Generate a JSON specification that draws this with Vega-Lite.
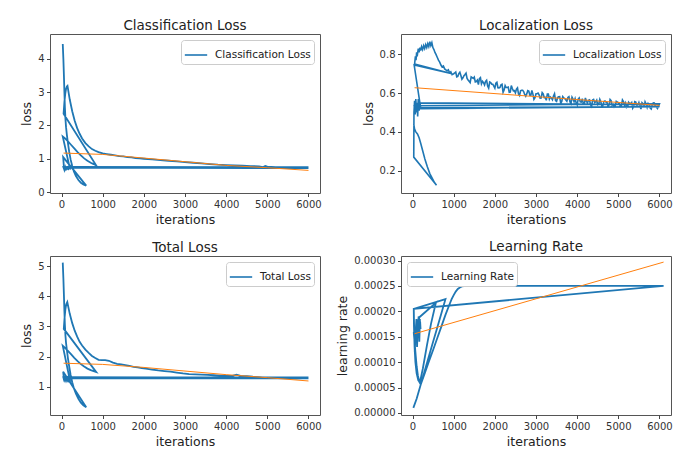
{
"$schema": "https://vega.github.io/schema/vega-lite/v6.json",
"background": "white",
"padding": {"top": 18, "left": 20, "right": 3, "bottom": 5},
"datasets": {
"cls": [
{"i":0,"x":30,"y":4.45},{"i":1,"x":45,"y":4.0},{"i":2,"x":58,"y":3.5},{"i":3,"x":70,"y":3.0},{"i":4,"x":82,"y":2.55},{"i":5,"x":95,"y":2.2},{"i":6,"x":110,"y":1.95},{"i":7,"x":130,"y":1.72},{"i":8,"x":155,"y":1.48},{"i":9,"x":185,"y":1.22},{"i":10,"x":220,"y":0.98},{"i":11,"x":260,"y":0.78},{"i":12,"x":300,"y":0.62},{"i":13,"x":350,"y":0.48},{"i":14,"x":410,"y":0.36},{"i":15,"x":470,"y":0.28},{"i":16,"x":530,"y":0.23},{"i":17,"x":600,"y":0.19},
{"i":18,"x":40,"y":1.05},{"i":19,"x":55,"y":0.8},{"i":20,"x":70,"y":0.7},{"i":21,"x":90,"y":0.74},{"i":22,"x":110,"y":0.69},{"i":23,"x":130,"y":0.73},{"i":24,"x":150,"y":0.7},{"i":25,"x":175,"y":0.74},{"i":26,"x":200,"y":0.72},
{"i":27,"x":30,"y":1.67},{"i":28,"x":80,"y":1.62},{"i":29,"x":150,"y":1.53},{"i":30,"x":230,"y":1.42},{"i":31,"x":310,"y":1.31},{"i":32,"x":390,"y":1.2},{"i":33,"x":470,"y":1.1},{"i":34,"x":550,"y":1.01},{"i":35,"x":630,"y":0.94},{"i":36,"x":710,"y":0.88},{"i":37,"x":780,"y":0.84},{"i":38,"x":840,"y":0.8},
{"i":39,"x":50,"y":2.35},{"i":40,"x":70,"y":2.7},{"i":41,"x":90,"y":2.95},{"i":42,"x":110,"y":3.1},{"i":43,"x":130,"y":3.17},{"i":44,"x":145,"y":3.19},{"i":45,"x":200,"y":2.78},{"i":46,"x":260,"y":2.43},{"i":47,"x":320,"y":2.14},{"i":48,"x":380,"y":1.92},{"i":49,"x":440,"y":1.75},{"i":50,"x":500,"y":1.61},{"i":51,"x":580,"y":1.47},{"i":52,"x":660,"y":1.37},{"i":53,"x":740,"y":1.29},{"i":54,"x":820,"y":1.24},{"i":55,"x":900,"y":1.2},{"i":56,"x":1000,"y":1.16},{"i":57,"x":1100,"y":1.14},{"i":58,"x":1200,"y":1.12},{"i":59,"x":1300,"y":1.1},{"i":60,"x":1400,"y":1.08},{"i":61,"x":1500,"y":1.07},{"i":62,"x":1600,"y":1.05},{"i":63,"x":1700,"y":1.04},{"i":64,"x":1800,"y":1.02},{"i":65,"x":1900,"y":1.01},{"i":66,"x":2000,"y":1.0},{"i":67,"x":2200,"y":0.98},{"i":68,"x":2400,"y":0.96},{"i":69,"x":2600,"y":0.94},{"i":70,"x":2800,"y":0.92},{"i":71,"x":3000,"y":0.9},{"i":72,"x":3200,"y":0.88},{"i":73,"x":3400,"y":0.86},{"i":74,"x":3600,"y":0.84},{"i":75,"x":3800,"y":0.82},{"i":76,"x":4000,"y":0.81},{"i":77,"x":4200,"y":0.8},{"i":78,"x":4400,"y":0.79},{"i":79,"x":4600,"y":0.78},{"i":80,"x":4800,"y":0.77},{"i":81,"x":4900,"y":0.75},{"i":82,"x":4950,"y":0.78},{"i":83,"x":5000,"y":0.76},{"i":84,"x":5200,"y":0.75},{"i":85,"x":5400,"y":0.74},{"i":86,"x":5600,"y":0.73},{"i":87,"x":5800,"y":0.73},{"i":88,"x":6000,"y":0.72},
{"i":89,"x":50,"y":0.73},{"i":90,"x":70,"y":0.66},{"i":91,"x":90,"y":0.75},{"i":92,"x":110,"y":0.68},{"i":93,"x":140,"y":0.74},{"i":94,"x":170,"y":0.69},{"i":95,"x":200,"y":0.735},{"i":96,"x":6000,"y":0.735},{"i":97,"x":45,"y":0.75},{"i":98,"x":65,"y":0.7},{"i":99,"x":95,"y":0.76},{"i":100,"x":130,"y":0.71},{"i":101,"x":160,"y":0.75},{"i":102,"x":6000,"y":0.75}
],
"cls_fit": [{"x":50,"y":1.17},{"x":1000,"y":1.13},{"x":2000,"y":1.02},{"x":3000,"y":0.91},{"x":4000,"y":0.8},{"x":5000,"y":0.73},{"x":6000,"y":0.65}],
"loc": [
{"i":0,"x":30,"y":0.44},{"i":1,"x":50,"y":0.415},{"i":2,"x":80,"y":0.4},{"i":3,"x":120,"y":0.39},{"i":4,"x":160,"y":0.37},{"i":5,"x":200,"y":0.34},{"i":6,"x":250,"y":0.3},{"i":7,"x":300,"y":0.26},{"i":8,"x":360,"y":0.22},{"i":9,"x":420,"y":0.185},{"i":10,"x":480,"y":0.16},{"i":11,"x":530,"y":0.14},{"i":12,"x":583,"y":0.125},
{"i":13,"x":30,"y":0.27},{"i":14,"x":35,"y":0.5},{"i":15,"x":50,"y":0.56},{"i":16,"x":65,"y":0.49},{"i":17,"x":80,"y":0.57},{"i":18,"x":95,"y":0.5},{"i":19,"x":110,"y":0.55},{"i":20,"x":125,"y":0.48},{"i":21,"x":140,"y":0.57},{"i":22,"x":160,"y":0.51},{"i":23,"x":180,"y":0.55},{"i":24,"x":200,"y":0.52},
{"i":25,"x":40,"y":0.745},{"i":26,"x":960,"y":0.7},
{"i":27,"x":50,"y":0.75},{"i":28,"x":70,"y":0.79},{"i":29,"x":85,"y":0.77},{"i":30,"x":100,"y":0.81},{"i":31,"x":120,"y":0.8},{"i":32,"x":140,"y":0.83},{"i":33,"x":160,"y":0.81},{"i":34,"x":180,"y":0.835},{"i":35,"x":200,"y":0.82},{"i":36,"x":220,"y":0.84},{"i":37,"x":245,"y":0.825},{"i":38,"x":270,"y":0.845},{"i":39,"x":295,"y":0.83},{"i":40,"x":320,"y":0.85},{"i":41,"x":345,"y":0.835},{"i":42,"x":370,"y":0.855},{"i":43,"x":395,"y":0.84},{"i":44,"x":420,"y":0.865},{"i":45,"x":445,"y":0.845},{"i":46,"x":470,"y":0.86},{"i":47,"x":495,"y":0.835},{"i":48,"x":520,"y":0.825},{"i":49,"x":545,"y":0.81},{"i":50,"x":570,"y":0.8},{"i":51,"x":600,"y":0.785},{"i":52,"x":630,"y":0.77},{"i":53,"x":660,"y":0.76},{"i":54,"x":690,"y":0.745},{"i":55,"x":720,"y":0.735},{"i":56,"x":750,"y":0.74},{"i":57,"x":780,"y":0.725},{"i":58,"x":810,"y":0.72},{"i":59,"x":840,"y":0.715},{"i":60,"x":870,"y":0.72},{"i":61,"x":900,"y":0.705},{"i":62,"x":930,"y":0.71},{"i":63,"x":960,"y":0.695},
{"i":64,"x":1000,"y":0.700},{"i":64.5,"x":1025,"y":0.704},{"i":65,"x":1050,"y":0.709},{"i":65.5,"x":1075,"y":0.684},{"i":66,"x":1100,"y":0.686},{"i":66.5,"x":1125,"y":0.701},{"i":67,"x":1150,"y":0.708},{"i":67.5,"x":1175,"y":0.691},{"i":68,"x":1200,"y":0.672},{"i":68.5,"x":1225,"y":0.679},{"i":69,"x":1250,"y":0.690},{"i":69.5,"x":1275,"y":0.696},{"i":70,"x":1300,"y":0.703},{"i":70.5,"x":1325,"y":0.676},{"i":71,"x":1350,"y":0.668},{"i":71.5,"x":1375,"y":0.661},{"i":72,"x":1400,"y":0.654},{"i":72.5,"x":1425,"y":0.684},{"i":73,"x":1450,"y":0.680},{"i":73.5,"x":1475,"y":0.676},
{"i":74,"x":1500,"y":0.683},{"i":74.5,"x":1525,"y":0.658},{"i":75,"x":1550,"y":0.660},{"i":75.5,"x":1575,"y":0.667},{"i":76,"x":1600,"y":0.644},{"i":76.5,"x":1625,"y":0.675},{"i":77,"x":1650,"y":0.680},{"i":77.5,"x":1675,"y":0.648},{"i":78,"x":1700,"y":0.661},{"i":78.5,"x":1725,"y":0.654},{"i":79,"x":1750,"y":0.642},{"i":79.5,"x":1775,"y":0.661},{"i":80,"x":1800,"y":0.667},{"i":80.5,"x":1825,"y":0.637},{"i":81,"x":1850,"y":0.626},{"i":81.5,"x":1875,"y":0.657},{"i":82,"x":1900,"y":0.654},{"i":82.5,"x":1925,"y":0.646},{"i":83,"x":1950,"y":0.646},{"i":83.5,"x":1975,"y":0.636},
{"i":84,"x":2000,"y":0.626},{"i":84.5,"x":2025,"y":0.651},{"i":85,"x":2050,"y":0.656},{"i":85.5,"x":2075,"y":0.628},{"i":86,"x":2100,"y":0.627},{"i":86.5,"x":2125,"y":0.630},{"i":87,"x":2150,"y":0.643},{"i":87.5,"x":2175,"y":0.646},{"i":88,"x":2200,"y":0.604},{"i":88.5,"x":2225,"y":0.616},{"i":89,"x":2250,"y":0.639},{"i":89.5,"x":2275,"y":0.629},{"i":90,"x":2300,"y":0.629},{"i":90.5,"x":2325,"y":0.631},{"i":91,"x":2350,"y":0.604},{"i":91.5,"x":2375,"y":0.605},{"i":92,"x":2400,"y":0.639},{"i":92.5,"x":2425,"y":0.624},{"i":93,"x":2450,"y":0.612},{"i":93.5,"x":2475,"y":0.613},
{"i":94,"x":2500,"y":0.601},{"i":94.5,"x":2525,"y":0.621},{"i":95,"x":2550,"y":0.627},{"i":95.5,"x":2575,"y":0.596},{"i":96,"x":2600,"y":0.588},{"i":96.5,"x":2625,"y":0.612},{"i":97,"x":2650,"y":0.615},{"i":97.5,"x":2675,"y":0.615},{"i":98,"x":2700,"y":0.608},{"i":98.5,"x":2725,"y":0.593},{"i":99,"x":2750,"y":0.584},{"i":99.5,"x":2775,"y":0.596},{"i":100,"x":2800,"y":0.613},{"i":100.5,"x":2825,"y":0.611},{"i":101,"x":2850,"y":0.589},{"i":101.5,"x":2875,"y":0.589},{"i":102,"x":2900,"y":0.614},{"i":102.5,"x":2925,"y":0.595},{"i":103,"x":2950,"y":0.568},{"i":103.5,"x":2975,"y":0.576},
{"i":104,"x":3000,"y":0.597},{"i":104.5,"x":3025,"y":0.597},{"i":105,"x":3050,"y":0.600},{"i":105.5,"x":3075,"y":0.591},{"i":106,"x":3100,"y":0.574},{"i":106.5,"x":3125,"y":0.575},{"i":107,"x":3150,"y":0.603},{"i":107.5,"x":3175,"y":0.596},{"i":108,"x":3200,"y":0.577},{"i":108.5,"x":3225,"y":0.578},{"i":109,"x":3250,"y":0.563},{"i":109.5,"x":3275,"y":0.595},{"i":110,"x":3300,"y":0.595},{"i":110.5,"x":3325,"y":0.569},{"i":111,"x":3350,"y":0.580},{"i":111.5,"x":3375,"y":0.575},{"i":112,"x":3400,"y":0.566},{"i":112.5,"x":3425,"y":0.585},{"i":113,"x":3450,"y":0.597},{"i":113.5,"x":3475,"y":0.562},
{"i":114,"x":3500,"y":0.558},{"i":114.5,"x":3525,"y":0.577},{"i":115,"x":3550,"y":0.581},{"i":115.5,"x":3575,"y":0.582},{"i":116,"x":3600,"y":0.549},{"i":116.5,"x":3625,"y":0.556},{"i":117,"x":3650,"y":0.582},{"i":117.5,"x":3675,"y":0.575},{"i":118,"x":3700,"y":0.572},{"i":118.5,"x":3725,"y":0.565},{"i":119,"x":3750,"y":0.558},{"i":119.5,"x":3775,"y":0.578},{"i":120,"x":3800,"y":0.582},{"i":120.5,"x":3825,"y":0.556},{"i":121,"x":3850,"y":0.546},{"i":121.5,"x":3875,"y":0.579},{"i":122,"x":3900,"y":0.569},{"i":122.5,"x":3925,"y":0.556},{"i":123,"x":3950,"y":0.572},{"i":123.5,"x":3975,"y":0.550},
{"i":124,"x":4000,"y":0.540},{"i":124.5,"x":4025,"y":0.569},{"i":125,"x":4050,"y":0.575},{"i":125.5,"x":4075,"y":0.555},{"i":126,"x":4100,"y":0.554},{"i":126.5,"x":4125,"y":0.571},{"i":127,"x":4150,"y":0.545},{"i":127.5,"x":4175,"y":0.545},{"i":128,"x":4200,"y":0.575},{"i":128.5,"x":4225,"y":0.558},{"i":129,"x":4250,"y":0.549},{"i":129.5,"x":4275,"y":0.563},{"i":130,"x":4300,"y":0.565},{"i":130.5,"x":4325,"y":0.540},{"i":131,"x":4350,"y":0.531},{"i":131.5,"x":4375,"y":0.564},{"i":132,"x":4400,"y":0.567},{"i":132.5,"x":4425,"y":0.552},{"i":133,"x":4450,"y":0.555},{"i":133.5,"x":4475,"y":0.564},
{"i":134,"x":4500,"y":0.540},{"i":134.5,"x":4525,"y":0.543},{"i":135,"x":4550,"y":0.568},{"i":135.5,"x":4575,"y":0.555},{"i":136,"x":4600,"y":0.534},{"i":136.5,"x":4625,"y":0.537},{"i":137,"x":4650,"y":0.557},{"i":137.5,"x":4675,"y":0.560},{"i":138,"x":4700,"y":0.554},{"i":138.5,"x":4725,"y":0.552},{"i":139,"x":4750,"y":0.534},{"i":139.5,"x":4775,"y":0.538},{"i":140,"x":4800,"y":0.567},{"i":140.5,"x":4825,"y":0.561},{"i":141,"x":4850,"y":0.538},{"i":141.5,"x":4875,"y":0.542},{"i":142,"x":4900,"y":0.528},{"i":142.5,"x":4925,"y":0.534},{"i":143,"x":4950,"y":0.558},{"i":143.5,"x":4975,"y":0.554},
{"i":144,"x":5000,"y":0.551},{"i":144.5,"x":5025,"y":0.546},{"i":145,"x":5050,"y":0.532},{"i":145.5,"x":5075,"y":0.536},{"i":146,"x":5100,"y":0.565},{"i":146.5,"x":5125,"y":0.556},{"i":147,"x":5150,"y":0.539},{"i":147.5,"x":5175,"y":0.550},{"i":148,"x":5200,"y":0.526},{"i":148.5,"x":5225,"y":0.529},{"i":149,"x":5250,"y":0.553},{"i":149.5,"x":5275,"y":0.547},{"i":150,"x":5300,"y":0.546},{"i":150.5,"x":5325,"y":0.552},{"i":151,"x":5350,"y":0.522},{"i":151.5,"x":5375,"y":0.531},{"i":152,"x":5400,"y":0.556},{"i":152.5,"x":5425,"y":0.554},{"i":153,"x":5450,"y":0.533},{"i":153.5,"x":5475,"y":0.538},
{"i":154,"x":5500,"y":0.552},{"i":154.5,"x":5525,"y":0.533},{"i":155,"x":5550,"y":0.518},{"i":155.5,"x":5575,"y":0.551},{"i":156,"x":5600,"y":0.546},{"i":156.5,"x":5625,"y":0.527},{"i":157,"x":5650,"y":0.555},{"i":157.5,"x":5675,"y":0.544},{"i":158,"x":5700,"y":0.527},{"i":158.5,"x":5725,"y":0.547},{"i":159,"x":5750,"y":0.541},{"i":159.5,"x":5775,"y":0.523},{"i":160,"x":5800,"y":0.518},{"i":160.5,"x":5825,"y":0.540},{"i":161,"x":5850,"y":0.550},{"i":161.5,"x":5875,"y":0.549},{"i":162,"x":5900,"y":0.530},{"i":162.5,"x":5925,"y":0.528},{"i":163,"x":5950,"y":0.521},{"i":163.5,"x":5975,"y":0.532},{"i":164,"x":6000,"y":0.545},
{"i":165,"x":40,"y":0.535},{"i":166,"x":60,"y":0.5},{"i":167,"x":90,"y":0.545},{"i":168,"x":120,"y":0.51},{"i":169,"x":150,"y":0.54},{"i":170,"x":180,"y":0.52},{"i":171,"x":6000,"y":0.53},{"i":172,"x":45,"y":0.525},{"i":173,"x":75,"y":0.56},{"i":174,"x":110,"y":0.52},{"i":175,"x":145,"y":0.55},{"i":176,"x":6000,"y":0.54}
],
"loc_fit": [{"x":50,"y":0.628},{"x":3000,"y":0.582},{"x":6000,"y":0.537}],
"tot": [
{"i":0,"x":30,"y":5.12},{"i":1,"x":45,"y":4.6},{"i":2,"x":58,"y":4.05},{"i":3,"x":70,"y":3.5},{"i":4,"x":82,"y":3.05},{"i":5,"x":95,"y":2.7},{"i":6,"x":110,"y":2.45},{"i":7,"x":130,"y":2.22},{"i":8,"x":155,"y":1.95},{"i":9,"x":185,"y":1.68},{"i":10,"x":220,"y":1.4},{"i":11,"x":260,"y":1.15},{"i":12,"x":300,"y":0.95},{"i":13,"x":350,"y":0.77},{"i":14,"x":410,"y":0.6},{"i":15,"x":470,"y":0.47},{"i":16,"x":530,"y":0.38},{"i":17,"x":600,"y":0.32},
{"i":18,"x":40,"y":1.5},{"i":19,"x":55,"y":1.3},{"i":20,"x":70,"y":1.18},{"i":21,"x":90,"y":1.27},{"i":22,"x":110,"y":1.19},{"i":23,"x":130,"y":1.26},{"i":24,"x":150,"y":1.2},{"i":25,"x":175,"y":1.27},{"i":26,"x":200,"y":1.24},
{"i":27,"x":30,"y":2.36},{"i":28,"x":80,"y":2.3},{"i":29,"x":150,"y":2.2},{"i":30,"x":230,"y":2.08},{"i":31,"x":310,"y":1.96},{"i":32,"x":390,"y":1.85},{"i":33,"x":470,"y":1.75},{"i":34,"x":550,"y":1.67},{"i":35,"x":630,"y":1.6},{"i":36,"x":710,"y":1.55},{"i":37,"x":780,"y":1.52},{"i":38,"x":840,"y":1.49},
{"i":39,"x":55,"y":2.92},{"i":40,"x":75,"y":3.3},{"i":41,"x":95,"y":3.58},{"i":42,"x":115,"y":3.74},{"i":43,"x":140,"y":3.81},{"i":44,"x":200,"y":3.42},{"i":45,"x":260,"y":3.11},{"i":46,"x":320,"y":2.86},{"i":47,"x":380,"y":2.66},{"i":48,"x":440,"y":2.49},{"i":49,"x":500,"y":2.37},{"i":50,"x":580,"y":2.23},{"i":51,"x":660,"y":2.12},{"i":52,"x":740,"y":2.02},{"i":53,"x":820,"y":1.95},{"i":54,"x":900,"y":1.89},{"i":55,"x":980,"y":1.88},{"i":56,"x":1060,"y":1.88},{"i":57,"x":1150,"y":1.86},{"i":58,"x":1250,"y":1.8},{"i":59,"x":1350,"y":1.76},{"i":60,"x":1450,"y":1.74},{"i":61,"x":1550,"y":1.72},{"i":62,"x":1650,"y":1.69},{"i":63,"x":1750,"y":1.66},{"i":64,"x":1850,"y":1.64},{"i":65,"x":1950,"y":1.62},{"i":66,"x":2050,"y":1.6},{"i":67,"x":2200,"y":1.57},{"i":68,"x":2350,"y":1.54},{"i":69,"x":2500,"y":1.52},{"i":70,"x":2650,"y":1.5},{"i":71,"x":2800,"y":1.47},{"i":72,"x":2950,"y":1.44},{"i":73,"x":3100,"y":1.42},{"i":74,"x":3250,"y":1.41},{"i":75,"x":3400,"y":1.4},{"i":76,"x":3550,"y":1.39},{"i":77,"x":3700,"y":1.38},{"i":78,"x":3850,"y":1.37},{"i":79,"x":4000,"y":1.36},{"i":80,"x":4150,"y":1.36},{"i":81,"x":4250,"y":1.4},{"i":82,"x":4350,"y":1.36},{"i":83,"x":4500,"y":1.35},{"i":84,"x":4650,"y":1.33},{"i":85,"x":4800,"y":1.32},{"i":86,"x":4950,"y":1.3},{"i":87,"x":5100,"y":1.29},{"i":88,"x":5250,"y":1.28},{"i":89,"x":5400,"y":1.31},{"i":90,"x":5550,"y":1.28},{"i":91,"x":5700,"y":1.27},{"i":92,"x":5850,"y":1.28},{"i":93,"x":6000,"y":1.28},
{"i":94,"x":50,"y":1.28},{"i":95,"x":70,"y":1.18},{"i":96,"x":90,"y":1.32},{"i":97,"x":110,"y":1.22},{"i":98,"x":140,"y":1.3},{"i":99,"x":170,"y":1.2},{"i":100,"x":200,"y":1.29},{"i":101,"x":6000,"y":1.29},{"i":102,"x":45,"y":1.31},{"i":103,"x":65,"y":1.22},{"i":104,"x":95,"y":1.34},{"i":105,"x":130,"y":1.25},{"i":106,"x":160,"y":1.31},{"i":107,"x":6000,"y":1.31}
],
"tot_fit": [{"x":50,"y":1.78},{"x":1000,"y":1.74},{"x":2000,"y":1.64},{"x":3000,"y":1.52},{"x":4000,"y":1.4},{"x":5000,"y":1.3},{"x":6000,"y":1.19}],
"lr": [
{"i":0,"x":20,"y":0.00001},{"i":1,"x":100,"y":0.000028},{"i":2,"x":200,"y":0.000056},{"i":3,"x":300,"y":0.000079},{"i":4,"x":400,"y":0.000102},{"i":5,"x":500,"y":0.000124},{"i":6,"x":600,"y":0.000147},{"i":7,"x":700,"y":0.00017},{"i":8,"x":800,"y":0.000193},{"i":9,"x":900,"y":0.000214},{"i":10,"x":950,"y":0.000224},{"i":11,"x":1000,"y":0.000232},{"i":12,"x":1050,"y":0.000239},{"i":13,"x":1100,"y":0.000244},{"i":14,"x":1150,"y":0.000247},{"i":15,"x":1200,"y":0.000249},{"i":16,"x":1300,"y":0.00025},{"i":17,"x":3000,"y":0.00025},{"i":18,"x":6100,"y":0.00025},
{"i":19,"x":30,"y":0.000205},{"i":20,"x":40,"y":0.000165},{"i":21,"x":55,"y":0.00012},{"i":22,"x":75,"y":0.00016},{"i":23,"x":95,"y":0.000185},{"i":24,"x":110,"y":0.00013},{"i":25,"x":130,"y":0.000175},{"i":26,"x":150,"y":0.00019},{"i":27,"x":165,"y":0.00014},{"i":28,"x":180,"y":0.000185},
{"i":29,"x":30,"y":0.000158},{"i":30,"x":50,"y":0.00014},{"i":31,"x":75,"y":0.000115},{"i":32,"x":100,"y":0.000092},{"i":33,"x":130,"y":0.000074},{"i":34,"x":165,"y":0.000061},{"i":35,"x":200,"y":0.000056},{"i":36,"x":250,"y":0.00007},{"i":37,"x":300,"y":0.000084},{"i":38,"x":400,"y":0.000112},{"i":39,"x":500,"y":0.00014},{"i":40,"x":600,"y":0.000168},{"i":41,"x":700,"y":0.000196},{"i":42,"x":800,"y":0.000224},
{"i":43,"x":30,"y":0.000205},{"i":44,"x":35,"y":0.00017},{"i":45,"x":50,"y":0.00013},{"i":46,"x":70,"y":0.0001},{"i":47,"x":100,"y":0.000078},{"i":48,"x":140,"y":0.000064},{"i":49,"x":180,"y":0.00006},{"i":50,"x":250,"y":0.000087},{"i":51,"x":350,"y":0.000133},{"i":52,"x":450,"y":0.000176},{"i":53,"x":567,"y":0.000217},
{"i":54,"x":160,"y":0.000188},{"i":55,"x":170,"y":0.00016},{"i":56,"x":185,"y":0.00018},{"i":57,"x":195,"y":0.000165}
],
"lr_fit": [{"x":50,"y":0.000156},{"x":6100,"y":0.000297}]
},
"columns": 2,
"spacing": {"row": 63, "column": 81},
"bounds": "flush",
"resolve": {"scale": {"x": "independent", "y": "independent", "color": "independent"}},
"concat": [
{"width": 270, "height": 159, "title": "Classification Loss",
 "layer": [
  {"data": {"name": "cls"}, "mark": {"type": "line", "strokeWidth": 1.8, "clip": true},
   "encoding": {
    "x": {"field": "x", "type": "quantitative", "scale": {"domain": [-280, 6280], "nice": false, "zero": false}, "axis": {"values": [0,1000,2000,3000,4000,5000,6000], "tickCount": 20, "format": "d", "title": "iterations"}},
    "y": {"field": "y", "type": "quantitative", "scale": {"domain": [-0.03, 4.75], "nice": false, "zero": false}, "axis": {"values": [0,1,2,3,4], "tickCount": 20, "labelOverlap": false, "format": "d", "title": "loss"}},
    "order": {"field": "i", "type": "quantitative"},
    "color": {"datum": "Classification Loss", "type": "nominal", "scale": {"range": ["#1f77b4"]}, "legend": {"orient": "top-right", "title": null}}}},
  {"data": {"name": "cls_fit"}, "mark": {"type": "line", "color": "#ff7f0e", "strokeWidth": 1, "clip": true},
   "encoding": {"x": {"field": "x", "type": "quantitative"}, "y": {"field": "y", "type": "quantitative"}}}
 ]},
{"width": 270, "height": 159, "title": "Localization Loss",
 "layer": [
  {"data": {"name": "loc"}, "mark": {"type": "line", "strokeWidth": 1.6, "clip": true},
   "encoding": {
    "x": {"field": "x", "type": "quantitative", "scale": {"domain": [-280, 6280], "nice": false, "zero": false}, "axis": {"values": [0,1000,2000,3000,4000,5000,6000], "tickCount": 20, "format": "d", "title": "iterations"}},
    "y": {"field": "y", "type": "quantitative", "scale": {"domain": [0.085, 0.905], "nice": false, "zero": false}, "axis": {"values": [0.2,0.4,0.6,0.8], "tickCount": 20, "labelOverlap": false, "format": ".1f", "title": "loss"}},
    "order": {"field": "i", "type": "quantitative"},
    "color": {"datum": "Localization Loss", "type": "nominal", "scale": {"range": ["#1f77b4"]}, "legend": {"orient": "top-right", "title": null}}}},
  {"data": {"name": "loc_fit"}, "mark": {"type": "line", "color": "#ff7f0e", "strokeWidth": 1, "clip": true},
   "encoding": {"x": {"field": "x", "type": "quantitative"}, "y": {"field": "y", "type": "quantitative"}}}
 ]},
{"width": 270, "height": 159, "title": "Total Loss",
 "layer": [
  {"data": {"name": "tot"}, "mark": {"type": "line", "strokeWidth": 1.8, "clip": true},
   "encoding": {
    "x": {"field": "x", "type": "quantitative", "scale": {"domain": [-280, 6280], "nice": false, "zero": false}, "axis": {"values": [0,1000,2000,3000,4000,5000,6000], "tickCount": 20, "format": "d", "title": "iterations"}},
    "y": {"field": "y", "type": "quantitative", "scale": {"domain": [0.06, 5.34], "nice": false, "zero": false}, "axis": {"values": [1,2,3,4,5], "tickCount": 20, "labelOverlap": false, "format": "d", "title": "loss"}},
    "order": {"field": "i", "type": "quantitative"},
    "color": {"datum": "Total Loss", "type": "nominal", "scale": {"range": ["#1f77b4"]}, "legend": {"orient": "top-right", "title": null}}}},
  {"data": {"name": "tot_fit"}, "mark": {"type": "line", "color": "#ff7f0e", "strokeWidth": 1, "clip": true},
   "encoding": {"x": {"field": "x", "type": "quantitative"}, "y": {"field": "y", "type": "quantitative"}}}
 ]},
{"width": 270, "height": 159, "title": "Learning Rate",
 "layer": [
  {"data": {"name": "lr"}, "mark": {"type": "line", "strokeWidth": 1.8, "clip": true},
   "encoding": {
    "x": {"field": "x", "type": "quantitative", "scale": {"domain": [-280, 6280], "nice": false, "zero": false}, "axis": {"values": [0,1000,2000,3000,4000,5000,6000], "tickCount": 20, "format": "d", "title": "iterations"}},
    "y": {"field": "y", "type": "quantitative", "scale": {"domain": [-0.000004, 0.000309], "nice": false, "zero": false}, "axis": {"values": [0,0.00005,0.0001,0.00015,0.0002,0.00025,0.0003], "tickCount": 20, "labelOverlap": false, "format": ".5f", "title": "learning rate"}},
    "order": {"field": "i", "type": "quantitative"},
    "color": {"datum": "Learning Rate", "type": "nominal", "scale": {"range": ["#1f77b4"]}, "legend": {"orient": "top-left", "title": null}}}},
  {"data": {"name": "lr_fit"}, "mark": {"type": "line", "color": "#ff7f0e", "strokeWidth": 1, "clip": true},
   "encoding": {"x": {"field": "x", "type": "quantitative"}, "y": {"field": "y", "type": "quantitative"}}}
 ]}
],
"config": {
 "font": "DejaVu Sans",
 "view": {"stroke": "#555555", "strokeWidth": 1},
 "title": {"fontSize": 13.5, "fontWeight": "normal", "color": "#222222", "offset": 2, "frame": "group", "anchor": "middle"},
 "axis": {"domain": false, "grid": false, "ticks": true, "tickSize": 3.5, "tickColor": "#444444", "labelColor": "#333333", "labelFontSize": 10, "labelPadding": 2.5, "labelFlush": false, "labelOverlap": false, "titleFontSize": 12.5, "titleFontWeight": "normal", "titleColor": "#222222", "titlePadding": 4},
 "legend": {"labelFontSize": 10.5, "labelColor": "#222222", "symbolType": "stroke", "symbolSize": 500, "symbolStrokeWidth": 1.6, "labelOffset": 7, "padding": 3, "offset": 6, "strokeColor": "#cccccc", "fillColor": "white", "cornerRadius": 3}
}
}
